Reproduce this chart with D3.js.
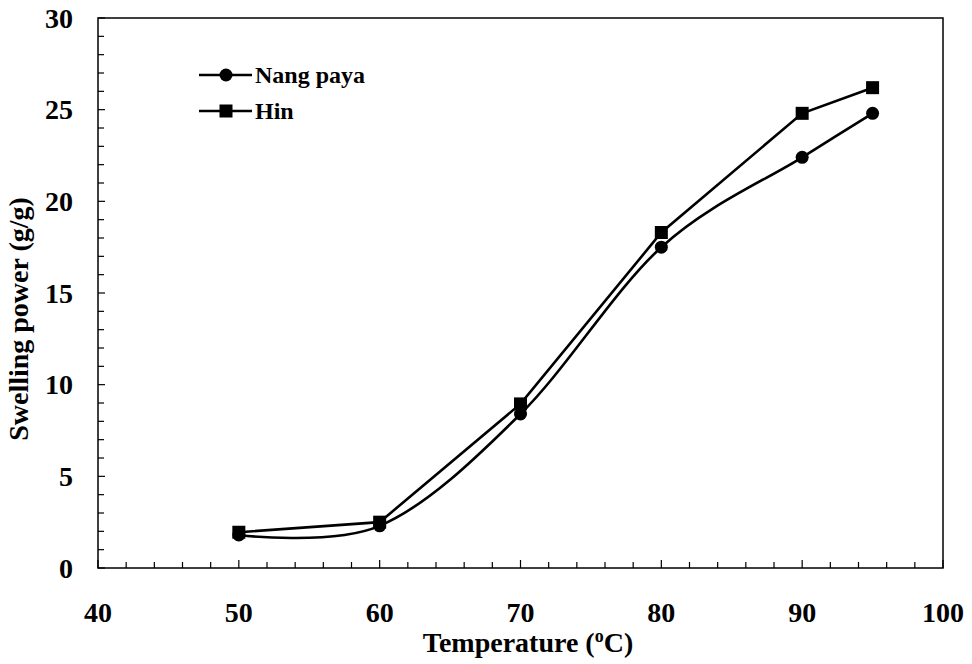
<!DOCTYPE html>
<html><head><meta charset="utf-8">
<script src="https://cdn.jsdelivr.net/npm/d3@7"></script>
<style>html,body{margin:0;padding:0;background:#fff}</style>
</head><body>
<svg id="c" width="972" height="664"></svg>
<script>
const temps = [50, 60, 70, 80, 90, 95];
const nangPaya = [1.8, 2.3, 8.4, 17.5, 22.4, 24.8];
const hin = [1.95, 2.5, 8.95, 18.3, 24.8, 26.2];
const seriesNames = ["Nang paya", "Hin"];
const xTicks = [40, 50, 60, 70, 80, 90, 100];
const yTicks = [0, 5, 10, 15, 20, 25, 30];

const svg = d3.select("#c");
const L = 98, R = 943, T = 18, B = 568;
const x = d3.scaleLinear().domain([40, 100]).range([L, R]);
const y = d3.scaleLinear().domain([0, 30]).range([B, T]);
const font = "'Liberation Serif', 'Times New Roman', serif";

// frame
svg.append("rect").attr("x", L).attr("y", T).attr("width", R - L).attr("height", B - T)
  .attr("fill", "none").attr("stroke", "#000").attr("stroke-width", 1.5);

// x ticks (inside)
const xMinor = d3.range(40, 100.1, 2);
svg.append("g").selectAll("line").data(xMinor).join("line")
  .attr("x1", d => x(d)).attr("x2", d => x(d))
  .attr("y1", B).attr("y2", d => B - (d % 10 === 0 ? 8 : 6))
  .attr("stroke", "#000").attr("stroke-width", 1.2);
// y ticks (inside)
const yMinor = d3.range(0, 30.1, 1);
svg.append("g").selectAll("line").data(yMinor).join("line")
  .attr("y1", d => y(d)).attr("y2", d => y(d))
  .attr("x1", L).attr("x2", d => L + (d % 5 === 0 ? 7 : 6))
  .attr("stroke", "#000").attr("stroke-width", 1.2);

// tick labels
svg.append("g").selectAll("text").data(xTicks).join("text")
  .attr("x", d => x(d)).attr("y", 622).attr("text-anchor", "middle")
  .attr("font-family", font).attr("font-weight", "bold").attr("font-size", 28)
  .text(d => d);
svg.append("g").selectAll("text").data(yTicks).join("text")
  .attr("x", 73).attr("y", d => y(d)).attr("dy", "0.35em").attr("text-anchor", "end")
  .attr("font-family", font).attr("font-weight", "bold").attr("font-size", 28)
  .text(d => d);

// axis titles
const xt = svg.append("text").attr("x", 528).attr("y", 652).attr("text-anchor", "middle")
  .attr("font-family", font).attr("font-weight", "bold").attr("font-size", 28);
xt.append("tspan").text("Temperature (");
xt.append("tspan").attr("baseline-shift", "super").attr("font-size", 18).text("o");
xt.append("tspan").text("C)");
svg.append("text").attr("transform", "translate(28,319) rotate(-90)").attr("text-anchor", "middle")
  .attr("font-family", font).attr("font-weight", "bold").attr("font-size", 28)
  .text("Swelling power (g/g)");

// lines
const d1 = temps.map((t, i) => [t, nangPaya[i]]);
const d2 = temps.map((t, i) => [t, hin[i]]);
const smooth = d3.line().x(d => x(d[0])).y(d => y(d[1])).curve(d3.curveCatmullRom.alpha(0));
svg.append("path").attr("d", smooth(d1)).attr("fill", "none").attr("stroke", "#000").attr("stroke-width", 2.6);
svg.append("path").attr("d", d3.line().x(d => x(d[0])).y(d => y(d[1]))(d2)).attr("fill", "none").attr("stroke", "#000").attr("stroke-width", 2.6);

svg.append("g").selectAll("circle").data(d1).join("circle")
  .attr("cx", d => x(d[0])).attr("cy", d => y(d[1])).attr("r", 6.5).attr("fill", "#000");
svg.append("g").selectAll("rect").data(d2).join("rect")
  .attr("x", d => x(d[0]) - 6.5).attr("y", d => y(d[1]) - 6.5).attr("width", 13).attr("height", 13).attr("fill", "#000");

// legend
const lg = svg.append("g");
[75, 111].forEach((ly, i) => {
  lg.append("line").attr("x1", 199).attr("x2", 252).attr("y1", ly).attr("y2", ly).attr("stroke", "#000").attr("stroke-width", 2.4);
  if (i === 0) lg.append("circle").attr("cx", 226).attr("cy", ly).attr("r", 6.5).attr("fill", "#000");
  else lg.append("rect").attr("x", 219.5).attr("y", ly - 6.5).attr("width", 13).attr("height", 13).attr("fill", "#000");
  lg.append("text").attr("x", 255).attr("y", ly).attr("dy", "0.35em")
    .attr("font-family", font).attr("font-weight", "bold").attr("font-size", 24).text(seriesNames[i]);
});
</script>
</body></html>
